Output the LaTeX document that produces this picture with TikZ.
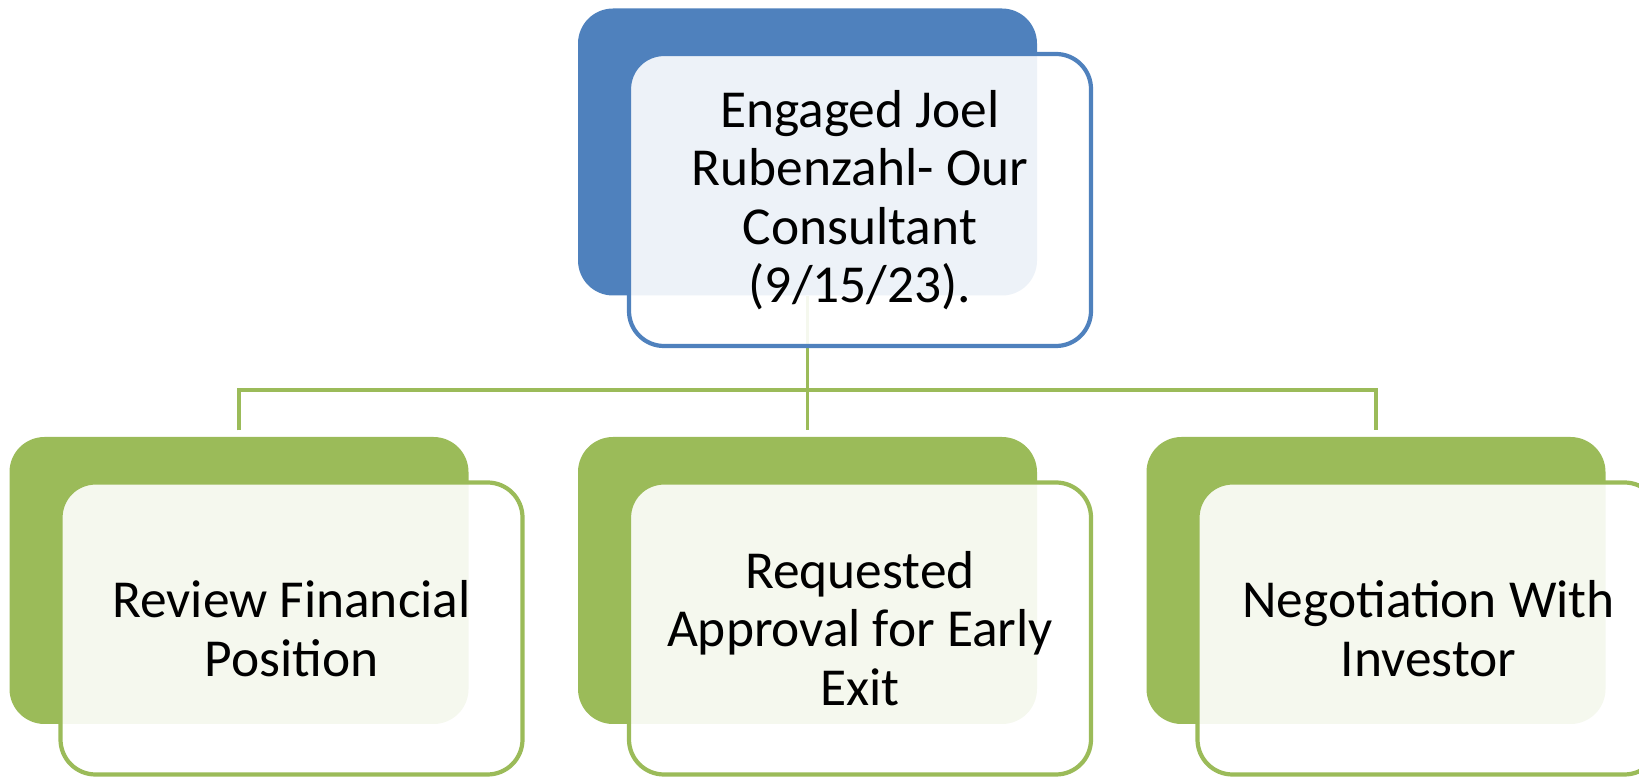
\documentclass[tikz,border=0pt]{standalone}
\usepackage{fontspec}
\setmainfont{Carlito}
\usetikzlibrary{calc}
\definecolor{headblue}{HTML}{4F81BD}
\definecolor{leafgreen}{HTML}{9BBB59}

\begin{document}
\begin{tikzpicture}[back/.style={shape=rectangle,rounded corners=0.35cm,minimum width=4.59cm,minimum height=2.87cm,inner sep=0pt,fill=#1},
  front/.style={shape=rectangle,rounded corners=0.35cm,minimum width=4.62cm,minimum height=2.92cm,inner sep=0pt,draw=#1,line width=1.2pt,fill=white,fill opacity=0.9,text opacity=1,align=center,font=\fontsize{15.2}{16.6}\selectfont},
  link/.style={draw=leafgreen,line width=1pt}]
  \useasboundingbox (0,0) rectangle (16.39,-7.77);
  \path (8.075,-1.52) node[back=headblue] (topback) {}
  (2.39,-5.805) node[back=leafgreen] (leftback) {} (8.075,-5.805) node[back=leafgreen] (midback) {}
  (13.76,-5.805) node[back=leafgreen] (rightback) {};
  \coordinate (hub) at (8.075,-3.90);
  \draw[link,shorten >=0.06cm] (topback.south) -- (midback.north);
  \draw[link,shorten <=0.06cm,shorten >=0.06cm] (leftback.north) |- (hub) -| (rightback.north);
  \node[front=headblue] (topfront) at ($(topback)+(0.525,-0.48)$) {Engaged Joel\\Rubenzahl- Our\\Consultant\\(9/15/23).};
  \node[front=leafgreen] (leftfront) at ($(leftback)+(0.525,-0.48)$) {Review Financial\\Position};
  \node[front=leafgreen] (midfront) at ($(midback)+(0.525,-0.48)$) {Requested\\Approval for Early\\Exit};
  \node[front=leafgreen] (rightfront) at ($(rightback)+(0.525,-0.48)$) {Negotiation With\\Investor};
\end{tikzpicture}
\end{document}
